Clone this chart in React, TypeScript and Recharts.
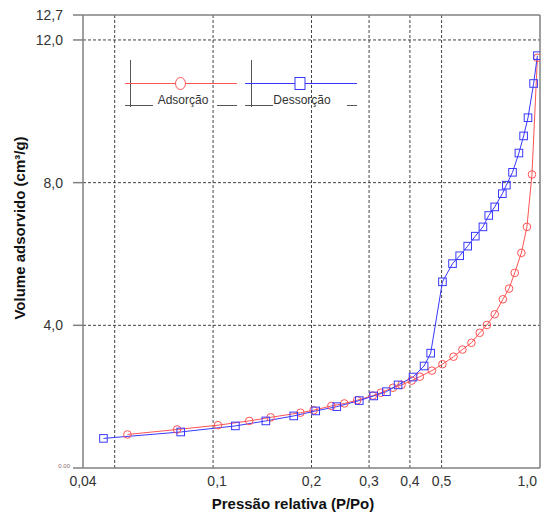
import React from 'react';
import {
  LineChart,
  Line,
  XAxis,
  YAxis,
  ReferenceLine,
} from 'recharts';

// adsorption branch (red circles)
const adsP = [0.0547, 0.0776, 0.1035, 0.129, 0.15, 0.185, 0.203, 0.23, 0.252, 0.276, 0.308, 0.326, 0.355, 0.377, 0.405, 0.429, 0.467, 0.503, 0.544, 0.579, 0.617, 0.654, 0.688, 0.727, 0.77, 0.804, 0.837, 0.877, 0.912, 0.945, 0.982];
const adsV = [0.94, 1.08, 1.2, 1.32, 1.42, 1.55, 1.62, 1.74, 1.81, 1.9, 2.03, 2.11, 2.25, 2.33, 2.45, 2.56, 2.73, 2.91, 3.12, 3.32, 3.51, 3.79, 4.01, 4.31, 4.73, 5.03, 5.47, 6.03, 6.76, 8.23, 11.5];

// desorption branch (blue squares)
const desP = [0.0462, 0.0796, 0.117, 0.145, 0.1765, 0.206, 0.239, 0.28, 0.31, 0.339, 0.368, 0.409, 0.442, 0.463, 0.503, 0.54, 0.568, 0.601, 0.634, 0.669, 0.697, 0.727, 0.767, 0.789, 0.824, 0.862, 0.891, 0.919, 0.956, 0.982];
const desV = [0.83, 1.01, 1.18, 1.32, 1.46, 1.6, 1.72, 1.89, 2.02, 2.14, 2.33, 2.55, 2.86, 3.22, 5.22, 5.73, 5.95, 6.22, 6.5, 6.76, 7.08, 7.32, 7.69, 7.93, 8.29, 8.83, 9.31, 9.82, 10.78, 11.56];

const xTicks = [0.04, 0.1, 0.2, 0.3, 0.4, 0.5, 1.0];
const xGrid = [0.05, 0.1, 0.2, 0.3, 0.4, 0.5];
const yTicks = [0, 4, 8, 12, 12.7];
const yGrid = [4, 8, 12];

const RED = '#ff5454';
const BLUE = '#3838ff';
const AXIS = '#808080';
const FONT = '"Liberation Sans", Arial, sans-serif';

const adsData = adsP.map((p, i) => ({ p, v: adsV[i] }));
const desData = desP.map((p, i) => ({ p, v: desV[i] }));

const comma = (v: number, d: number) => v.toFixed(d).replace('.', ',');

const XTick = ({ x, y, payload }: any) => {
  const v = payload.value;
  const last = v === 1;
  return (
    <text x={last ? x - 1 : v === 0.1 ? x + 4 : x} y={y} dy={5}
      textAnchor={last ? 'end' : 'middle'} dominantBaseline="central"
      fontFamily={FONT} fontSize={14} fill="#333">
      {v === 0.04 ? '0,04' : comma(v, 1)}
    </text>
  );
};

const YTick = ({ x, y, payload }: any) =>
  payload.value === 0 ? (
    <text x={x - 1} y={y - 2} textAnchor="end" dominantBaseline="central"
      fontFamily={FONT} fontSize={6} fill="#8a6a6a">0.00</text>
  ) : (
    <text x={x - 8} y={y} textAnchor="end" dominantBaseline="central"
      fontFamily={FONT} fontSize={14} fill="#333">{comma(payload.value, 1)}</text>
  );

const Circle = ({ cx, cy }: any) => (
  <circle cx={cx} cy={cy} r={3.8} fill="none" stroke={RED} strokeWidth={1} />
);

const Square = ({ cx, cy }: any) => (
  <rect x={cx - 3.8} y={cy - 3.8} width={7.6} height={7.6} fill="none" stroke={BLUE} strokeWidth={1} />
);

const Legend = () => (
  <svg width={542} height={521} style={{ position: 'absolute', left: 0, top: 0, pointerEvents: 'none' }}>
    <g stroke="#555" strokeWidth={1}>
      <line x1={130.5} y1={60} x2={130.5} y2={107} />
      <line x1={125} y1={105.5} x2={153} y2={105.5} />
      <line x1={217} y1={105.5} x2={237} y2={105.5} />
      <line x1={251.5} y1={60} x2={251.5} y2={107} />
      <line x1={245} y1={105.5} x2={273} y2={105.5} />
      <line x1={347} y1={105.5} x2={357} y2={105.5} />
    </g>
    <line x1={125} y1={83.5} x2={237} y2={83.5} stroke={RED} strokeWidth={1} />
    <ellipse cx={180.5} cy={83.5} rx={5} ry={6} fill="#fff" stroke={RED} strokeWidth={1} />
    <text x={183} y={100} textAnchor="middle" dominantBaseline="central" fontFamily={FONT} fontSize={12} fill="#333">Adsorção</text>
    <line x1={245} y1={83.5} x2={357} y2={83.5} stroke={BLUE} strokeWidth={1} />
    <rect x={295} y={77.5} width={10} height={12} fill="#fff" stroke={BLUE} strokeWidth={1} />
    <text x={302} y={100} textAnchor="middle" dominantBaseline="central" fontFamily={FONT} fontSize={12} fill="#333">Dessorção</text>
  </svg>
);

export default function App() {
  return (
    <div style={{ position: 'absolute', left: 0, top: 0, width: 542, height: 521, background: '#fff' }}>
      <LineChart width={542} height={521} margin={{ top: 15, right: 2, bottom: 0, left: 0 }}>
        <XAxis
          dataKey="p"
          type="number"
          scale="log"
          domain={[0.04, 1]}
          ticks={xTicks}
          tick={<XTick />}
          tickLine={false}
          height={53}
          stroke={AXIS}
          strokeWidth={1.5}
          allowDataOverflow
          label={{
            content: () => (
              <text x={293} y={503} textAnchor="middle" dominantBaseline="central"
                fontFamily={FONT} fontSize={15} fontWeight="bold" fill="#111">
                Pressão relativa (P/Po)
              </text>
            ),
          }}
        />
        <YAxis
          type="number"
          domain={[0, 12.7]}
          ticks={yTicks}
          tick={<YTick />}
          tickSize={10}
          width={83}
          stroke={AXIS}
          strokeWidth={1.5}
          allowDataOverflow
          label={{
            content: () => (
              <text x={19} y={228} transform="rotate(-90 19 228)" textAnchor="middle"
                dominantBaseline="central" fontFamily={FONT} fontSize={15} fontWeight="bold" fill="#111">
                Volume adsorvido (cm³/g)
              </text>
            ),
          }}
        />
        {xGrid.map((g) => (
          <ReferenceLine key={'x' + g} x={g} stroke="#444" strokeDasharray="3 2" />
        ))}
        {yGrid.map((g) => (
          <ReferenceLine key={'y' + g} y={g} stroke="#444" strokeDasharray="3 2" />
        ))}
        <ReferenceLine y={12.7} stroke={AXIS} strokeWidth={1.5} />
        <ReferenceLine x={1} stroke={AXIS} strokeWidth={1.5} />
        <Line data={adsData} dataKey="v" stroke={RED} strokeWidth={1} dot={<Circle />}
          isAnimationActive={false} />
        <Line data={desData} dataKey="v" stroke={BLUE} strokeWidth={1} dot={<Square />}
          isAnimationActive={false} />
      </LineChart>
      <Legend />
    </div>
  );
}
